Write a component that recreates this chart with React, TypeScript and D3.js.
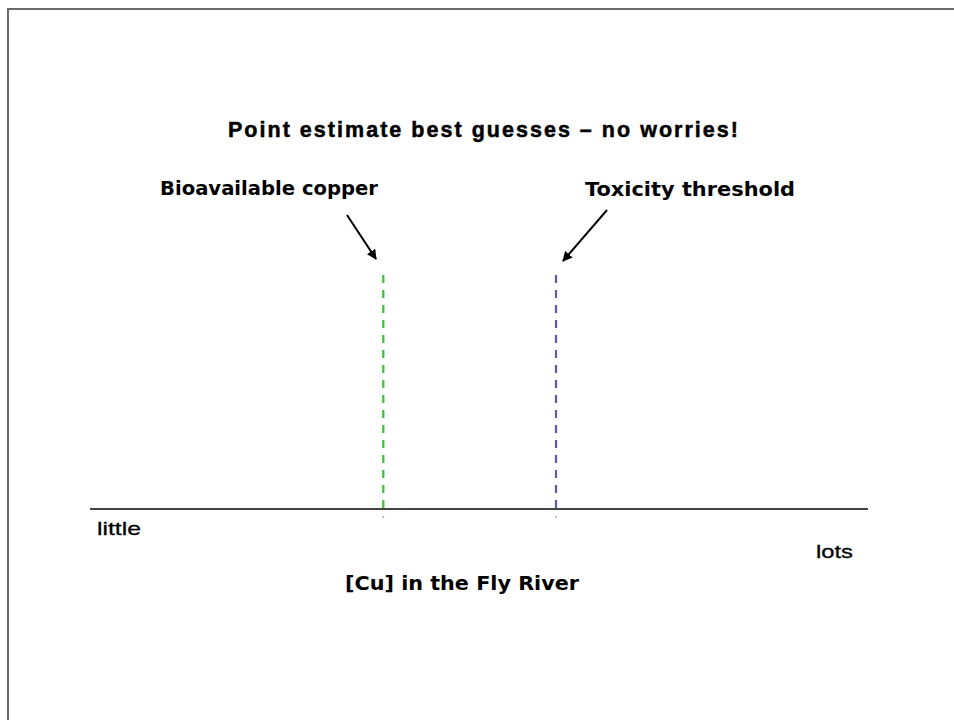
import React from "react";
import * as d3 from "d3";

const title = "Point estimate best guesses – no worries!";
const markerNames = ["Bioavailable copper", "Toxicity threshold"];
const markerValues = [37.7, 59.9];
const markerColors = ["#33c633", "#5a5aa6"];
const axisEnds = ["little", "lots"];
const axisTitle = "[Cu] in the Fly River";

const W = 954;
const H = 720;

export default function App() {
  const x = d3.scaleLinear().domain([0, 100]).range([90, 868]);
  const axisY = 509;
  const lineTop = 275;
  const comic = "'DejaVu Sans', sans-serif";

  const arrowPath = (x1: number, y1: number, x2: number, y2: number) => {
    const p = d3.path();
    p.moveTo(x1, y1);
    p.lineTo(x2, y2);
    return p.toString();
  };

  const labelPos = [
    { x: 160, y: 195, len: 218 },
    { x: 585, y: 196, len: 210 },
  ];
  const arrows = [
    [347, 215, 376, 259],
    [607, 210, 563, 261],
  ];

  return (
    <svg
      width={W}
      height={H}
      style={{ position: "absolute", left: 0, top: 0, background: "#fff" }}
    >
      <defs>
        <marker
          id="ah"
          viewBox="0 0 10 10"
          refX="9"
          refY="5"
          markerWidth="5"
          markerHeight="5"
          orient="auto"
        >
          <path d="M0,0 L10,5 L0,10 z" fill="#000" />
        </marker>
      </defs>
      <rect x={8} y={9} width={W + 20} height={H + 20} fill="#fff" stroke="#6a6a6a" strokeWidth={2} />
      <text
        x={228}
        y={137}
        fontFamily="'Liberation Sans', Arial, sans-serif"
        fontWeight="bold"
        fontSize={21.5}
        textLength={510}
        lengthAdjust="spacing"
        fill="#000"
        stroke="#000"
        strokeWidth={0.5}
      >
        {title}
      </text>

      {markerNames.map((name, i) => (
        <g key={name}>
          <text
            x={labelPos[i].x}
            y={labelPos[i].y}
            fontFamily={comic}
            fontWeight="bold"
            fontSize={19.5}
            textLength={labelPos[i].len}
            lengthAdjust="spacingAndGlyphs"
            fill="#000"
          >
            {name}
          </text>
          <path
            d={arrowPath(arrows[i][0], arrows[i][1], arrows[i][2], arrows[i][3])}
            stroke="#000"
            strokeWidth={2}
            fill="none"
            markerEnd="url(#ah)"
          />
          <line
            x1={x(markerValues[i])}
            x2={x(markerValues[i])}
            y1={lineTop}
            y2={axisY}
            stroke={markerColors[i]}
            strokeWidth={2.2}
            strokeDasharray="8 7"
          />
          <circle cx={x(markerValues[i])} cy={axisY + 8} r={1} fill="#aaa" />
        </g>
      ))}

      <line x1={x(0)} x2={x(100)} y1={axisY} y2={axisY} stroke="#444" strokeWidth={2} />

      <text
        x={97}
        y={535}
        fontFamily="'Liberation Sans', Arial, sans-serif"
        fontSize={19}
        textLength={44}
        lengthAdjust="spacingAndGlyphs"
        fill="#000"
        stroke="#000"
        strokeWidth={0.3}
      >
        {axisEnds[0]}
      </text>
      <text
        x={816}
        y={558}
        fontFamily="'Liberation Sans', Arial, sans-serif"
        fontSize={19}
        textLength={37}
        lengthAdjust="spacingAndGlyphs"
        fill="#000"
        stroke="#000"
        strokeWidth={0.3}
      >
        {axisEnds[1]}
      </text>
      <text
        x={462}
        y={590}
        textAnchor="middle"
        fontFamily={comic}
        fontWeight="bold"
        fontSize={19}
        textLength={234}
        lengthAdjust="spacingAndGlyphs"
        fill="#000"
      >
        {axisTitle}
      </text>
    </svg>
  );
}
